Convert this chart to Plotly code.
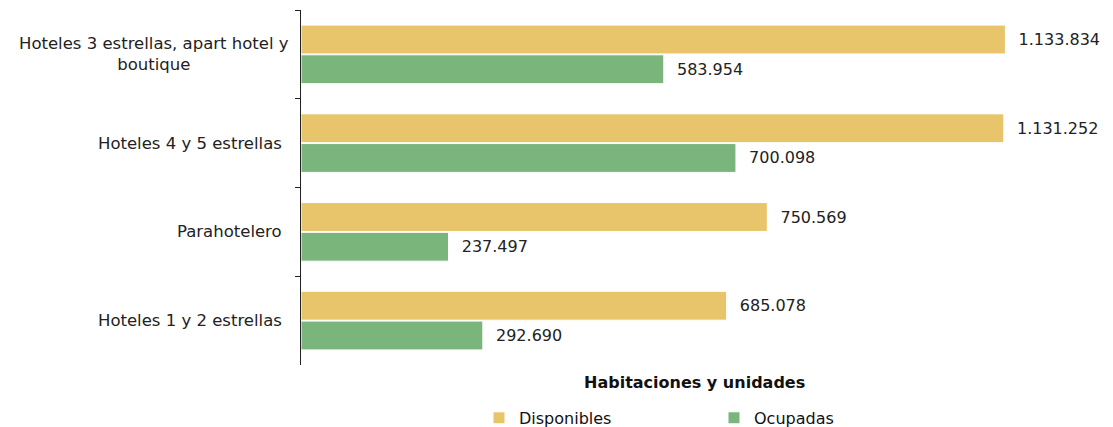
import plotly.graph_objects as go

categories = [
    "Hoteles 3 estrellas, apart hotel y boutique",
    "Hoteles 4 y 5 estrellas",
    "Parahotelero",
    "Hoteles 1 y 2 estrellas",
]
tick_labels = [
    "Hoteles 3 estrellas, apart hotel y<br>boutique",
    "Hoteles 4 y 5 estrellas",
    "Parahotelero",
    "Hoteles 1 y 2 estrellas",
]
disponibles = [1133834, 1131252, 750569, 685078]
ocupadas = [583954, 700098, 237497, 292690]
series_names = ["Disponibles", "Ocupadas"]
legend_title = "Habitaciones y unidades"

FONT = "DejaVu Sans, Liberation Sans, Arial"
COL_Y = "#E8C56B"
COL_G = "#7AB57C"


def fmt(v):
    return "\u00a0\u00a0" + f"{v:,}".replace(",", ".")


fig = go.Figure()
for name, vals, col in [(series_names[0], disponibles, COL_Y),
                        (series_names[1], ocupadas, COL_G)]:
    fig.add_trace(go.Bar(
        name=name, y=categories, x=vals, orientation="h",
        marker=dict(color=col, line=dict(color="white", width=1)),
        text=[fmt(v) for v in vals], textposition="outside",
        textfont=dict(family=FONT, size=16, color="#222"),
        cliponaxis=False, hoverinfo="x+y",
    ))

for cat, lab in zip(categories, tick_labels):
    multi = "<br>" in lab
    fig.add_annotation(
        x=0, xref="paper", y=cat, yref="y",
        xshift=-10 if multi else -17,
        text=lab, showarrow=False, xanchor="right", yanchor="middle",
        align="center", font=dict(family=FONT, size=16.5, color="#222"),
    )

# legend title
fig.add_annotation(
    x=0.499, xref="paper", y=-0.0507, yref="paper",
    text="<b>" + legend_title + "</b>", showarrow=False,
    xanchor="center", yanchor="middle",
    font=dict(family=FONT, size=16, color="#111"),
)

fig.update_layout(
    width=1113, height=427,
    margin=dict(l=301, r=23, t=10, b=62, autoexpand=False),
    paper_bgcolor="white", plot_bgcolor="white",
    barmode="group", bargap=0.33, bargroupgap=0.03,
    font=dict(family=FONT, size=16, color="#222"),
    xaxis=dict(range=[0, 1270000], visible=False, showgrid=False, zeroline=False),
    yaxis=dict(
        categoryorder="array", categoryarray=categories,
        range=[3.5, -0.5], showticklabels=False,
        showline=True, linecolor="#222", linewidth=1,
        ticks="outside", tickson="boundaries", ticklen=5,
        tickcolor="#222", showgrid=False, zeroline=False,
    ),
    legend=dict(
        orientation="h", x=0.2256, xanchor="left", y=-0.149, yanchor="middle",
        traceorder="normal",
        font=dict(family=FONT, size=16, color="#111"),
        entrywidth=190, entrywidthmode="pixels",
    ),
    showlegend=True,
)

fig.write_html("out.html", config={"displayModeBar": False},
               post_script="document.body.style.margin='0';document.body.style.overflow='hidden';")
